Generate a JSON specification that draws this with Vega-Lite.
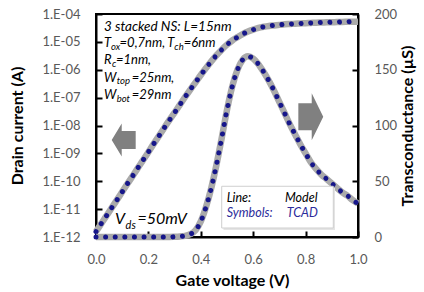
{
  "$schema": "https://vega.github.io/schema/vega-lite/v6.json",
  "width": 262,
  "height": 223,
  "autosize": {"type": "none"},
  "padding": {"left": 96, "top": 14, "right": 66, "bottom": 55},
  "background": "white",
  "config": {
    "view": {"stroke": "black", "strokeWidth": 2},
    "font": "Lato",
    "axis": {
      "domainColor": "black", "domainWidth": 2,
      "tickColor": "black", "tickWidth": 2, "tickSize": -6,
      "labelColor": "#595959", "labelFont": "Lato", "labelFontSize": 13, "labelPadding": 22,
      "labelFlush": false,
      "titleFont": "Lato", "titleFontSize": 16, "titleFontWeight": "bold", "titleColor": "black",
      "grid": false
    }
  },
  "datasets": {
    "curves": [
      {"vg": 0.00, "id": 1.55e-12, "gm": 0},
      {"vg": 0.02, "id": 3.02e-12, "gm": 0},
      {"vg": 0.04, "id": 5.75e-12, "gm": 0},
      {"vg": 0.06, "id": 1.12e-11, "gm": 0},
      {"vg": 0.08, "id": 2.14e-11, "gm": 0},
      {"vg": 0.10, "id": 4.17e-11, "gm": 0},
      {"vg": 0.12, "id": 8.13e-11, "gm": 0},
      {"vg": 0.14, "id": 1.55e-10, "gm": 0},
      {"vg": 0.16, "id": 3.02e-10, "gm": 0},
      {"vg": 0.18, "id": 5.75e-10, "gm": 0},
      {"vg": 0.20, "id": 1.12e-9, "gm": 0},
      {"vg": 0.22, "id": 2.19e-9, "gm": 0},
      {"vg": 0.24, "id": 4.17e-9, "gm": 0},
      {"vg": 0.26, "id": 8.13e-9, "gm": 0},
      {"vg": 0.28, "id": 1.55e-8, "gm": 0},
      {"vg": 0.30, "id": 2.88e-8, "gm": 0.2},
      {"vg": 0.32, "id": 5.50e-8, "gm": 0.5},
      {"vg": 0.34, "id": 1.05e-7, "gm": 1},
      {"vg": 0.36, "id": 1.95e-7, "gm": 2.5},
      {"vg": 0.38, "id": 3.55e-7, "gm": 6},
      {"vg": 0.40, "id": 6.46e-7, "gm": 14},
      {"vg": 0.42, "id": 1.15e-6, "gm": 27},
      {"vg": 0.44, "id": 2.00e-6, "gm": 44},
      {"vg": 0.46, "id": 3.31e-6, "gm": 65},
      {"vg": 0.48, "id": 5.25e-6, "gm": 89},
      {"vg": 0.50, "id": 7.94e-6, "gm": 114},
      {"vg": 0.52, "id": 1.12e-5, "gm": 135},
      {"vg": 0.54, "id": 1.48e-5, "gm": 150},
      {"vg": 0.56, "id": 1.91e-5, "gm": 159},
      {"vg": 0.58, "id": 2.34e-5, "gm": 162},
      {"vg": 0.60, "id": 2.75e-5, "gm": 160},
      {"vg": 0.62, "id": 3.16e-5, "gm": 155},
      {"vg": 0.64, "id": 3.47e-5, "gm": 148},
      {"vg": 0.66, "id": 3.72e-5, "gm": 140},
      {"vg": 0.68, "id": 3.89e-5, "gm": 131},
      {"vg": 0.70, "id": 4.07e-5, "gm": 121},
      {"vg": 0.72, "id": 4.27e-5, "gm": 111},
      {"vg": 0.74, "id": 4.37e-5, "gm": 101},
      {"vg": 0.76, "id": 4.47e-5, "gm": 92},
      {"vg": 0.78, "id": 4.57e-5, "gm": 83},
      {"vg": 0.80, "id": 4.68e-5, "gm": 75},
      {"vg": 0.82, "id": 4.79e-5, "gm": 67},
      {"vg": 0.84, "id": 4.90e-5, "gm": 61},
      {"vg": 0.86, "id": 4.95e-5, "gm": 56},
      {"vg": 0.88, "id": 5.01e-5, "gm": 52},
      {"vg": 0.90, "id": 5.07e-5, "gm": 48},
      {"vg": 0.92, "id": 5.13e-5, "gm": 44},
      {"vg": 0.94, "id": 5.19e-5, "gm": 40},
      {"vg": 0.96, "id": 5.25e-5, "gm": 37},
      {"vg": 0.98, "id": 5.28e-5, "gm": 33},
      {"vg": 1.00, "id": 5.31e-5, "gm": 30}
    ],
    "notes": [
      {"vg": 0.0305, "gm": 188.6, "label": "3 stacked NS: L=15nm", "role": "head"},
      {"vg": 0.0305, "gm": 173.7, "label": "T", "role": "main"},
      {"vg": 0.0573, "gm": 170.4, "label": "ox", "role": "sub"},
      {"vg": 0.0900, "gm": 173.7, "label": "=0,7nm,", "role": "main"},
      {"vg": 0.2720, "gm": 173.7, "label": "T", "role": "main"},
      {"vg": 0.2990, "gm": 170.4, "label": "ch", "role": "sub"},
      {"vg": 0.3350, "gm": 173.7, "label": "=6nm", "role": "main"},
      {"vg": 0.0305, "gm": 158.7, "label": "R", "role": "main"},
      {"vg": 0.0610, "gm": 155.6, "label": "c", "role": "sub"},
      {"vg": 0.0760, "gm": 158.7, "label": "=1nm,", "role": "main"},
      {"vg": 0.0305, "gm": 142.6, "label": "W", "role": "main"},
      {"vg": 0.0790, "gm": 139.5, "label": "top", "role": "sub"},
      {"vg": 0.1360, "gm": 142.6, "label": "=25nm,", "role": "main"},
      {"vg": 0.0305, "gm": 127.4, "label": "W", "role": "main"},
      {"vg": 0.0790, "gm": 124.2, "label": "bot", "role": "sub"},
      {"vg": 0.1360, "gm": 127.4, "label": "=29nm", "role": "main"},
      {"vg": 0.0725, "gm": 16.1, "label": "V", "role": "vds"},
      {"vg": 0.1130, "gm": 9.9, "label": "ds", "role": "vdssub"},
      {"vg": 0.1580, "gm": 16.1, "label": "=50mV", "role": "vds"},
      {"vg": 0.4989, "gm": 35.0, "label": "Line:", "role": "legend"},
      {"vg": 0.7214, "gm": 35.0, "label": "Model", "role": "legend"},
      {"vg": 0.4989, "gm": 21.5, "label": "Symbols:", "role": "legendblue"},
      {"vg": 0.7279, "gm": 21.5, "label": "TCAD", "role": "legendblue"}
    ],
    "boxes": [
      {"vg": 0.4866, "vg2": 0.9122, "gm": 43.9, "gm2": 6.3, "kind": "shadow"},
      {"vg": 0.4798, "vg2": 0.9057, "gm": 45.5, "gm2": 8.07, "kind": "box"}
    ],
    "arrows": [
      {"vg": 0.1057, "gm": 87.0, "dir": "left"},
      {"vg": 0.8198, "gm": 107.9, "dir": "right"}
    ]
  },
  "layer": [
    {
      "data": {"name": "curves"},
      "encoding": {
        "x": {"field": "vg", "type": "quantitative", "title": "Gate voltage (V)",
              "scale": {"domain": [0, 1], "nice": false},
              "axis": {"values": [0, 0.2, 0.4, 0.6, 0.8, 1.0], "format": ".1f", "titlePadding": 6, "titleX": 136}},
        "y": {"field": "id", "type": "quantitative", "title": "Drain current (A)",
              "scale": {"type": "log", "domain": [1e-12, 1e-4]},
              "axis": {"values": [1e-12, 1e-11, 1e-10, 1e-9, 1e-8, 1e-7, 1e-6, 1e-5, 1e-4],
                       "labelExpr": "'1.E-' + format(-round(log(datum.value)/LN10), '02d')",
                       "titlePadding": 16}}
      },
      "layer": [
        {"mark": {"type": "line", "color": "#aaaaaa", "strokeWidth": 6.5, "interpolate": "monotone"}},
        {"mark": {"type": "line", "color": "#16168a", "strokeWidth": 5, "strokeDash": [0.01, 9.6], "strokeCap": "round", "interpolate": "monotone"}}
      ]
    },
    {
      "layer": [
        {
          "data": {"name": "curves"},
          "mark": {"type": "line", "color": "#aaaaaa", "strokeWidth": 6.5, "interpolate": "monotone"},
          "encoding": {
            "x": {"field": "vg", "type": "quantitative", "title": "Gate voltage (V)"},
            "y": {"field": "gm", "type": "quantitative", "title": "Transconductance (µS)",
                  "scale": {"domain": [0, 200], "nice": false},
                  "axis": {"orient": "right", "values": [0, 50, 100, 150, 200], "titleAngle": 270, "titlePadding": 19}}
          }
        },
        {
          "data": {"name": "curves"},
          "mark": {"type": "line", "color": "#16168a", "strokeWidth": 5, "strokeDash": [0.01, 9.6], "strokeCap": "round", "interpolate": "monotone"},
          "encoding": {
            "x": {"field": "vg", "type": "quantitative", "title": "Gate voltage (V)"},
            "y": {"field": "gm", "type": "quantitative", "title": "Transconductance (µS)"}
          }
        },
        {
          "data": {"name": "boxes"},
          "transform": [{"filter": "datum.kind === 'shadow'"}],
          "mark": {"type": "rect", "fill": "#e4e4e4"},
          "encoding": {
            "x": {"field": "vg", "type": "quantitative", "title": "Gate voltage (V)"},
            "x2": {"field": "vg2"},
            "y": {"field": "gm", "type": "quantitative", "title": "Transconductance (µS)"},
            "y2": {"field": "gm2"}
          }
        },
        {
          "data": {"name": "boxes"},
          "transform": [{"filter": "datum.kind === 'box'"}],
          "mark": {"type": "rect", "fill": "white", "stroke": "#cfcfcf", "strokeWidth": 1},
          "encoding": {
            "x": {"field": "vg", "type": "quantitative", "title": "Gate voltage (V)"},
            "x2": {"field": "vg2"},
            "y": {"field": "gm", "type": "quantitative", "title": "Transconductance (µS)"},
            "y2": {"field": "gm2"}
          }
        },
        {
          "data": {"name": "arrows"},
          "transform": [{"filter": "datum.dir === 'left'"}],
          "mark": {"type": "point", "filled": true, "color": "#808080", "opacity": 1, "size": 1089,
                   "shape": "M 0.727 -0.545 L -0.12 -0.545 L -0.12 -1 L -0.727 0 L -0.12 1 L -0.12 0.545 L 0.727 0.545 Z"},
          "encoding": {
            "x": {"field": "vg", "type": "quantitative", "title": "Gate voltage (V)"},
            "y": {"field": "gm", "type": "quantitative", "title": "Transconductance (µS)"}
          }
        },
        {
          "data": {"name": "arrows"},
          "transform": [{"filter": "datum.dir === 'right'"}],
          "mark": {"type": "point", "filled": true, "color": "#808080", "opacity": 1, "size": 2209,
                   "shape": "M -0.53 -0.574 L 0.04 -0.574 L 0.04 -1 L 0.53 0 L 0.04 1 L 0.04 0.574 L -0.53 0.574 Z"},
          "encoding": {
            "x": {"field": "vg", "type": "quantitative", "title": "Gate voltage (V)"},
            "y": {"field": "gm", "type": "quantitative", "title": "Transconductance (µS)"}
          }
        },
        {
          "data": {"name": "notes"},
          "transform": [{"filter": "datum.role === 'head'"}],
          "mark": {"type": "text", "align": "left", "baseline": "middle", "font": "Lato", "fontStyle": "italic", "fontSize": 13.5, "color": "black"},
          "encoding": {
            "x": {"field": "vg", "type": "quantitative", "title": "Gate voltage (V)"},
            "y": {"field": "gm", "type": "quantitative", "title": "Transconductance (µS)"},
            "text": {"field": "label"}
          }
        },
        {
          "data": {"name": "notes"},
          "transform": [{"filter": "datum.role === 'main'"}],
          "mark": {"type": "text", "align": "left", "baseline": "middle", "font": "Lato", "fontStyle": "italic", "fontSize": 13, "color": "black"},
          "encoding": {
            "x": {"field": "vg", "type": "quantitative", "title": "Gate voltage (V)"},
            "y": {"field": "gm", "type": "quantitative", "title": "Transconductance (µS)"},
            "text": {"field": "label"}
          }
        },
        {
          "data": {"name": "notes"},
          "transform": [{"filter": "datum.role === 'sub'"}],
          "mark": {"type": "text", "align": "left", "baseline": "middle", "font": "Lato", "fontStyle": "italic", "fontSize": 9.5, "color": "black"},
          "encoding": {
            "x": {"field": "vg", "type": "quantitative", "title": "Gate voltage (V)"},
            "y": {"field": "gm", "type": "quantitative", "title": "Transconductance (µS)"},
            "text": {"field": "label"}
          }
        },
        {
          "data": {"name": "notes"},
          "transform": [{"filter": "datum.role === 'vds'"}],
          "mark": {"type": "text", "align": "left", "baseline": "middle", "font": "Lato", "fontStyle": "italic", "fontSize": 16, "color": "black"},
          "encoding": {
            "x": {"field": "vg", "type": "quantitative", "title": "Gate voltage (V)"},
            "y": {"field": "gm", "type": "quantitative", "title": "Transconductance (µS)"},
            "text": {"field": "label"}
          }
        },
        {
          "data": {"name": "notes"},
          "transform": [{"filter": "datum.role === 'vdssub'"}],
          "mark": {"type": "text", "align": "left", "baseline": "middle", "font": "Lato", "fontStyle": "italic", "fontSize": 11, "color": "black"},
          "encoding": {
            "x": {"field": "vg", "type": "quantitative", "title": "Gate voltage (V)"},
            "y": {"field": "gm", "type": "quantitative", "title": "Transconductance (µS)"},
            "text": {"field": "label"}
          }
        },
        {
          "data": {"name": "notes"},
          "transform": [{"filter": "datum.role === 'legend'"}],
          "mark": {"type": "text", "align": "left", "baseline": "middle", "font": "Lato", "fontStyle": "italic", "fontSize": 12.5, "color": "black"},
          "encoding": {
            "x": {"field": "vg", "type": "quantitative", "title": "Gate voltage (V)"},
            "y": {"field": "gm", "type": "quantitative", "title": "Transconductance (µS)"},
            "text": {"field": "label"}
          }
        },
        {
          "data": {"name": "notes"},
          "transform": [{"filter": "datum.role === 'legendblue'"}],
          "mark": {"type": "text", "align": "left", "baseline": "middle", "font": "Lato", "fontStyle": "italic", "fontSize": 12.5, "color": "#2b2b9b"},
          "encoding": {
            "x": {"field": "vg", "type": "quantitative", "title": "Gate voltage (V)"},
            "y": {"field": "gm", "type": "quantitative", "title": "Transconductance (µS)"},
            "text": {"field": "label"}
          }
        }
      ]
    }
  ],
  "resolve": {"scale": {"y": "independent"}}
}
